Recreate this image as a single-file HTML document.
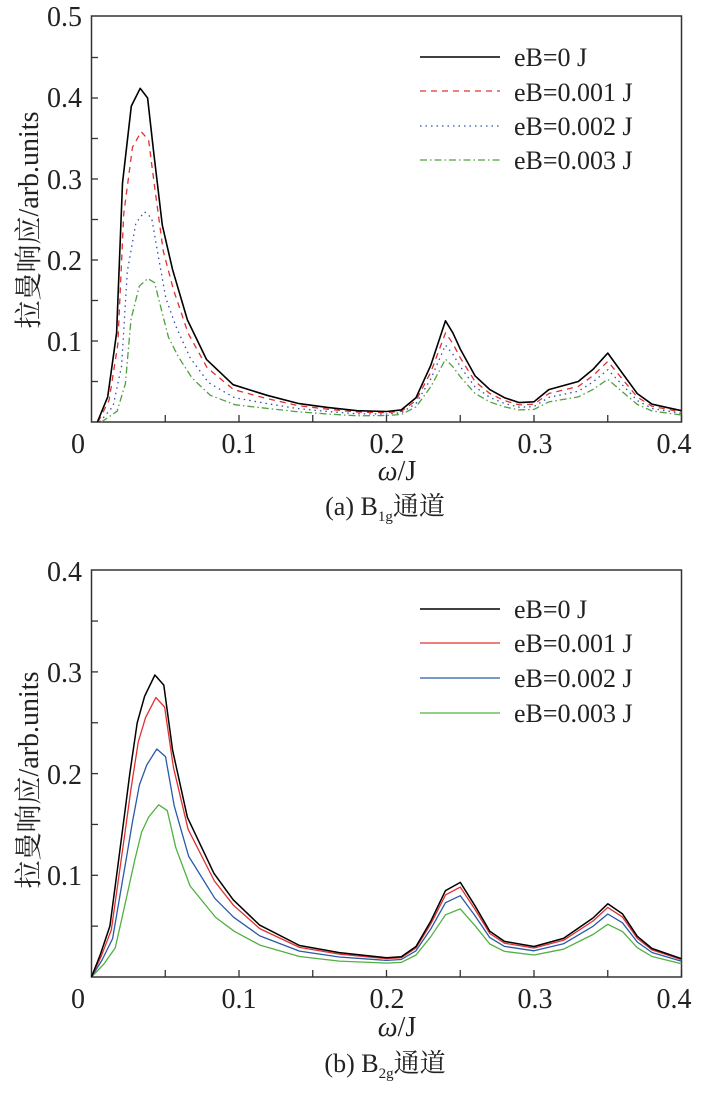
<!DOCTYPE html>
<html><head><meta charset="utf-8"><style>
html,body{margin:0;padding:0;background:#fff;}
</style></head><body>
<svg id="s" width="703" height="1097" xmlns="http://www.w3.org/2000/svg" font-family="'Liberation Serif', 'Noto Serif CJK SC', serif" fill="#222">
<rect x="91.5" y="16" width="590" height="406" fill="none" stroke="#333" stroke-width="1.5"/>
<g font-size="28" text-anchor="end">
<text x="82" y="26">0.5</text><text x="82" y="107">0.4</text><text x="82" y="189">0.3</text>
<text x="82" y="270">0.2</text><text x="82" y="351">0.1</text>
</g>
<g font-size="28" text-anchor="middle">
<text x="78" y="453">0</text><text x="239" y="453">0.1</text><text x="387" y="453">0.2</text>
<text x="535" y="453">0.3</text><text x="674" y="453">0.4</text>
<text x="397" y="480" font-style="italic">ω<tspan font-style="normal">/J</tspan></text>
<text x="385" y="515" font-size="26">(a) B<tspan font-size="15" dy="6">1g</tspan><tspan dy="-6">通道</tspan></text>
</g>
<text transform="translate(38,220) rotate(-90)" font-size="28" text-anchor="middle">拉曼响应/arb.units</text>
<g font-size="26">
<text x="514" y="66">eB=0 J</text><text x="514" y="101">eB=0.001 J</text>
<text x="514" y="135">eB=0.002 J</text><text x="514" y="169">eB=0.003 J</text>
</g>
<line x1="420" y1="57" x2="500" y2="57" stroke="#000" stroke-width="1.5"/>
<line x1="420" y1="91" x2="500" y2="91" stroke="#e03030" stroke-width="1.3" stroke-dasharray="6,5"/>
<line x1="420" y1="126" x2="500" y2="126" stroke="#3050b0" stroke-width="1.3" stroke-dasharray="1.5,4"/>
<line x1="420" y1="160" x2="500" y2="160" stroke="#50a040" stroke-width="1.3" stroke-dasharray="7,3,1.5,3"/>
<rect x="91.5" y="570" width="590" height="407" fill="none" stroke="#333" stroke-width="1.5"/>
<g font-size="28" text-anchor="end">
<text x="82" y="581">0.4</text><text x="82" y="682">0.3</text>
<text x="82" y="784">0.2</text><text x="82" y="885">0.1</text>
</g>
<g font-size="28" text-anchor="middle">
<text x="78" y="1008">0</text><text x="239" y="1008">0.1</text><text x="387" y="1008">0.2</text>
<text x="535" y="1008">0.3</text><text x="674" y="1008">0.4</text>
<text x="397" y="1036" font-style="italic">ω<tspan font-style="normal">/J</tspan></text>
<text x="385" y="1072" font-size="26">(b) B<tspan font-size="15" dy="6">2g</tspan><tspan dy="-6">通道</tspan></text>
</g>
<text transform="translate(38,780) rotate(-90)" font-size="28" text-anchor="middle">拉曼响应/arb.units</text>
<g font-size="26">
<text x="514" y="618">eB=0 J</text><text x="514" y="652">eB=0.001 J</text>
<text x="514" y="687">eB=0.002 J</text><text x="514" y="722">eB=0.003 J</text>
</g>
<line x1="420" y1="609" x2="500" y2="609" stroke="#000" stroke-width="1.5"/>
<line x1="420" y1="643" x2="500" y2="643" stroke="#e03030" stroke-width="1.3"/>
<line x1="420" y1="678" x2="500" y2="678" stroke="#2a5aa8" stroke-width="1.3"/>
<line x1="420" y1="713" x2="500" y2="713" stroke="#50b040" stroke-width="1.3"/>
</svg>
<script>
var s=document.getElementById('s'),NS='http://www.w3.org/2000/svg';
function el(n,a){var e=document.createElementNS(NS,n);for(var k in a)e.setAttribute(k,a[k]);s.appendChild(e);}
function ticks(bot,pxPer,top){
 for(var v=0.05;v<top-0.001;v+=0.05){var y=bot-v*pxPer;el('line',{x1:91.5,x2:98,y1:y,y2:y,stroke:'#333','stroke-width':1.3});}
 for(var w=0.05;w<0.4;w+=0.05){var x=91.5+w*1475;el('line',{x1:x,x2:x,y1:bot,y2:bot-7,stroke:'#333','stroke-width':1.3});}
}
ticks(422,810,0.5);ticks(977,1017,0.4);
var A=[[0.004,0],[0.011,0.031],[0.017,0.11],[0.021,0.295],[0.027,0.39],[0.033,0.412],[0.038,0.40],[0.042,0.336],[0.048,0.243],[0.055,0.188],[0.065,0.126],[0.078,0.077],[0.096,0.046],[0.119,0.033],[0.14,0.023],[0.16,0.018],[0.18,0.014],[0.2,0.013],[0.21,0.015],[0.22,0.03],[0.23,0.07],[0.24,0.125],[0.245,0.11],[0.25,0.09],[0.26,0.057],[0.27,0.04],[0.28,0.03],[0.29,0.024],[0.3,0.025],[0.31,0.04],[0.33,0.05],[0.34,0.065],[0.35,0.085],[0.36,0.06],[0.37,0.035],[0.38,0.022],[0.4,0.014]];
var B=[[0,0],[0.006,0.022],[0.0125,0.05],[0.0175,0.105],[0.022,0.155],[0.026,0.2],[0.031,0.25],[0.036,0.276],[0.043,0.297],[0.049,0.287],[0.055,0.223],[0.065,0.157],[0.083,0.102],[0.096,0.076],[0.114,0.051],[0.141,0.031],[0.168,0.024],[0.2,0.019],[0.21,0.02],[0.22,0.03],[0.23,0.055],[0.24,0.085],[0.25,0.093],[0.26,0.07],[0.27,0.045],[0.28,0.035],[0.3,0.03],[0.32,0.038],[0.34,0.058],[0.35,0.072],[0.36,0.062],[0.37,0.04],[0.38,0.028],[0.4,0.018]];
function draw(D,f1,f2,f3,shift,bot,sc,col,dash,sw){
 var d='';D.forEach(function(p,i){var w=p[0],v=p[1];var f=w<0.08?f1:(w<0.2?f1+(f2-f1)*Math.min(1,(w-0.08)/0.06):f3);
 var sh=(w>0&&w<0.12)?shift*(1-w/0.12)*Math.min(1,w/0.01):0;
 var x=91.5+(w+sh)*1475,y=bot-v*f*sc;d+=(i?'L':'M')+x.toFixed(1)+','+y.toFixed(1);});
 var a={d:d,fill:'none',stroke:col,'stroke-width':sw||1.3,'stroke-linejoin':'round'};if(dash)a['stroke-dasharray']=dash;el('path',a);}
draw(A,0.43,0.55,0.62,0.007,422,810,'#50a040','7,3,1.5,3');
draw(A,0.63,0.72,0.76,0.004,422,810,'#3050b0','1.5,4');
draw(A,0.87,0.88,0.88,0.001,422,810,'#e03030','6,5');
draw(A,1,1,1,0,422,810,'#000',null,1.6);
draw(B,0.57,0.65,0.72,0.004,977,1017,'#50b040');
draw(B,0.755,0.82,0.86,0.002,977,1017,'#2a5aa8');
draw(B,0.925,0.94,0.95,0.001,977,1017,'#e03030');
draw(B,1,1,1,0,977,1017,'#000',null,1.5);
</script>
</body></html>
